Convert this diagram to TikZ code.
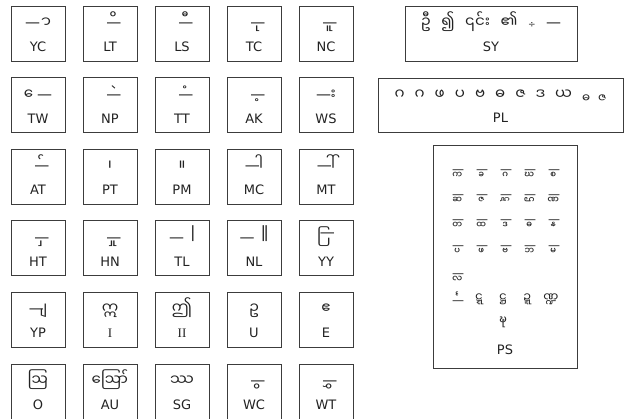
\documentclass[tikz,border=0pt]{standalone}
\usepackage{graphicx}
\usepackage{fontspec}
\setmainfont{DejaVu Sans}
\newfontfamily\mmfont[Script=Myanmar]{Noto Sans Myanmar UI}
\newfontfamily\seriffont{Liberation Serif}
\newfontfamily\symfont{DejaVu Sans}
\usetikzlibrary{positioning}

% a sign written on the dash that stands for its consonant
\newcommand\ondash[1]{\makebox[0pt][l]{\symfont —}\hspace{.5em}\makebox[0pt][l]{\mmfont\char"A0 #1}\hspace{.5em}}
\newcommand\dashthen[1]{{\symfont —}\kern-.3em{\mmfont\char"A0 #1}}
\newcommand\tallbar[1]{\raisebox{-4pt}{\scalebox{1}[2.2]{#1}}}

\definecolor{ink}{HTML}{222222}
\definecolor{frame}{HTML}{3C3C3C}

\tikzset{
  every node/.style={
    text=ink,
    inner sep=0pt,
  },
  cell/.style={
    rectangle,
    draw=frame, line width=1pt,
    minimum width=54pt, minimum height=55pt,
  },
  glyph/.style={
    font=\mmfont\fontsize{15}{15}\selectfont,
    anchor=base, yshift=-22pt,
  },
  subglyph/.style={
    font=\mmfont\fontsize{12}{12}\selectfont,
    anchor=base,
  },
  tag/.style={
    font=\fontsize{13}{13}\selectfont,
    anchor=base, yshift=10pt,
  },
}

\begin{document}
\begin{tikzpicture}[x=1pt, y=-1pt]
\useasboundingbox (0,0) rectangle (626,418);

% ----- single signs, 5 columns x 6 rows -----
\foreach \id/\gl/\lb [count=\c from 0] in {yc/{{\symfont —}{\mmfont\char"A0 ာ}}/YC, lt/\ondash{ိ}/LT, ls/\ondash{ီ}/LS, tc/\ondash{ု}/TC, nc/\ondash{ူ}/NC}{
  \node[cell]  (\id)   at ({38+72*\c}, 33.5) {};
  \node[glyph] (\id-g) at (\id.north) {\gl};
  \node[tag]   (\id-t) at (\id.south) {\lb};
}
\foreach \id/\gl/\lb [count=\c from 0] in {tw/{{\mmfont\char"A0 ေ}{\symfont —}}/TW, np/\ondash{ဲ}/NP, tt/\ondash{ံ}/TT, ak/\ondash{့}/AK, ws/\dashthen{း}/WS}{
  \node[cell]  (\id)   at ({38+72*\c}, 105.1) {};
  \node[glyph] (\id-g) at (\id.north) {\gl};
  \node[tag]   (\id-t) at (\id.south) {\lb};
}
\foreach \id/\gl/\lb [count=\c from 0] in {at/\ondash{်}/AT, pt/၊/PT, pm/။/PM, mc/\dashthen{ါ}/MC, mt/\dashthen{ါ်}/MT}{
  \node[cell]  (\id)   at ({38+72*\c}, 176.7) {};
  \node[glyph] (\id-g) at (\id.north) {\gl};
  \node[tag]   (\id-t) at (\id.south) {\lb};
}
\foreach \id/\gl/\lb [count=\c from 0] in {ht/\ondash{ှ}/HT, hn/\ondash{ှု}/HN, tl/{{\symfont —}\hspace{.45em}\tallbar{၊}}/TL, nl/{{\symfont —}\hspace{.45em}\tallbar{။}}/NL, yy/{{\mmfont\char"A0 ြ}\kern-.3em\raisebox{.3em}{\symfont —}}/YY}{
  \node[cell]  (\id)   at ({38+72*\c}, 248.3) {};
  \node[glyph] (\id-g) at (\id.north) {\gl};
  \node[tag]   (\id-t) at (\id.south) {\lb};
}
\foreach \id/\gl/\lb [count=\c from 0] in {yp/\dashthen{ျ}/YP, i/ဣ/{\seriffont I}, ii/ဤ/{\seriffont II}, u/ဥ/U, e/ဧ/E}{
  \node[cell]  (\id)   at ({38+72*\c}, 319.9) {};
  \node[glyph] (\id-g) at (\id.north) {\gl};
  \node[tag]   (\id-t) at (\id.south) {\lb};
}
\foreach \id/\gl/\lb [count=\c from 0] in {o/ဩ/O, au/ဪ/AU, sg/ဿ/SG, wc/\ondash{ွ}/WC, wt/\ondash{ွှ}/WT}{
  \node[cell]  (\id)   at ({38+72*\c}, 391.5) {};
  \node[glyph] (\id-g) at (\id.north) {\gl};
  \node[tag]   (\id-t) at (\id.south) {\lb};
}

% ----- symbols -----
\node[cell, minimum width=172pt] (sy) at (491, 33.5) {};
\node[glyph] (sy-g) at (sy.north) {ဦ\hspace{10.5pt}၍\hspace{10.5pt}၎င်း\hspace{10.5pt}၏\hspace{10.5pt}{\symfont\small ÷}\hspace{10.5pt}{\symfont —}};
\node[tag]   (sy-t) at (sy.south) {SY};

% ----- look-alike letters -----
\node[cell, minimum width=245pt, minimum height=54pt] (pl) at (500.5, 105) {};
\node[glyph] (pl-g) at (pl.north) {ဂ\hspace{10pt}ဂ\hspace{10pt}ဖ\hspace{10pt}ပ\hspace{10pt}ဗ\hspace{10pt}ဓ\hspace{10pt}ဇ\hspace{10pt}ဒ\hspace{10pt}ယ\hspace{10pt}%
  \raisebox{-3pt}{\fontsize{12}{12}\selectfont ဓ\hspace{8pt}ဇ}};
\node[tag]   (pl-t) at (pl.south) {PL};

% ----- stacked consonants -----
\node[cell, minimum width=144pt, minimum height=223pt] (ps) at (505, 256.5) {};
\foreach \gl [count=\c from 0] in {က,ခ,ဂ,ဃ,စ}
  \node[subglyph] (ps-a\c) at ({455+24*\c}, 173.5) {\ondash{္\gl}};
\foreach \gl [count=\c from 0] in {ဆ,ဇ,ဋ,ဌ,ဏ}
  \node[subglyph] (ps-b\c) at ({455+24*\c}, 198.5) {\ondash{္\gl}};
\foreach \gl [count=\c from 0] in {တ,ထ,ဒ,ဓ,န}
  \node[subglyph] (ps-c\c) at ({455+24*\c}, 223.5) {\ondash{္\gl}};
\foreach \gl [count=\c from 0] in {ပ,ဖ,ဗ,ဘ,မ}
  \node[subglyph] (ps-d\c) at ({455+24*\c}, 249.5) {\ondash{္\gl}};
\node[subglyph] (ps-e0) at (455, 277.5) {\ondash{္လ}};
\node[subglyph] (ps-e1) at (455, 304) {\makebox[0pt][l]{\symfont —}\hspace{.5em}\makebox[0pt][l]{\mmfont င်္\char"A0}\hspace{.5em}};
\foreach \gl [count=\c from 1] in {ဋ္ဋ,ဋ္ဌ,ဍ္ဍ,ဏ္ဍ}
  \node[subglyph] (ps-f\c) at ({455+24*\c}, 301) {\gl};
\node[subglyph] (ps-g) at (503, 324) {ဍ္ဎ};
\node[tag, yshift=4pt] (ps-t) at (ps.south) {PS};

\end{tikzpicture}
\end{document}
